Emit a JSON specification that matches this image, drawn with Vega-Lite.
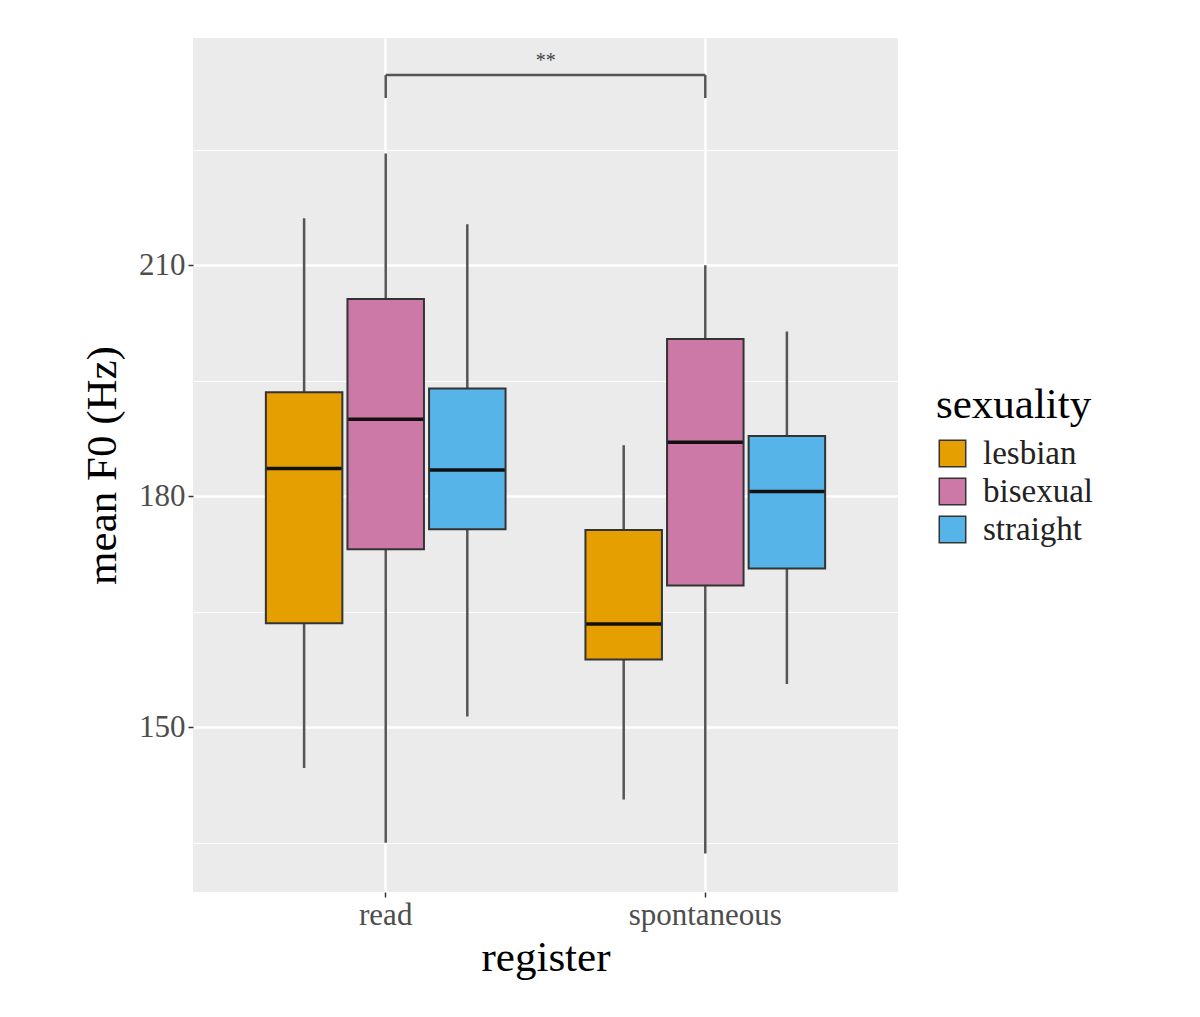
{
  "$schema": "https://vega.github.io/schema/vega-lite/v6.json",
  "width": 705,
  "height": 854,
  "autosize": {"type": "none"},
  "padding": {"left": 193, "top": 38, "right": 302, "bottom": 125},
  "background": "white",
  "config": {
    "font": "Liberation Serif",
    "view": {"fill": "#EBEBEB", "stroke": null}
  },
  "datasets": {
    "boxes": [
      {"register": "read", "sexuality": "lesbian", "lower": 144.7, "q1": 163.5, "median": 183.6, "q3": 193.5, "upper": 216.1},
      {"register": "read", "sexuality": "bisexual", "lower": 135.0, "q1": 173.1, "median": 190.0, "q3": 205.6, "upper": 224.5},
      {"register": "read", "sexuality": "straight", "lower": 151.4, "q1": 175.7, "median": 183.4, "q3": 194.0, "upper": 215.3},
      {"register": "spontaneous", "sexuality": "lesbian", "lower": 140.6, "q1": 158.8, "median": 163.4, "q3": 175.6, "upper": 186.6},
      {"register": "spontaneous", "sexuality": "bisexual", "lower": 133.6, "q1": 168.4, "median": 187.0, "q3": 200.4, "upper": 210.0},
      {"register": "spontaneous", "sexuality": "straight", "lower": 155.6, "q1": 170.6, "median": 180.6, "q3": 187.8, "upper": 201.4}
    ],
    "bracket": [
      {"from": "read", "to": "spontaneous", "top": 234.7, "foot": 231.7, "label": "**"}
    ]
  },
  "encoding": {
    "x": {
      "field": "register", "type": "nominal",
      "scale": {"domain": ["read", "spontaneous"], "paddingInner": 0.25, "paddingOuter": 0.228},
      "axis": {
        "title": "register", "titleFontSize": 43, "titleFontWeight": "normal", "titleColor": "#000",
        "titlePadding": 6,
        "labelFontSize": 31, "labelColor": "#4D4D4D", "labelAngle": 0, "labelPadding": 3,
        "domain": false, "tickColor": "#333", "tickSize": 5, "tickWidth": 1.5,
        "grid": true, "gridColor": "white", "gridWidth": 2.5, "bandPosition": 0.5
      }
    },
    "y": {
      "type": "quantitative",
      "scale": {"domain": [128.6, 239.5], "nice": false, "zero": false},
      "axis": {
        "title": "mean F0 (Hz)", "titleFontSize": 43, "titleFontWeight": "normal", "titleColor": "#000",
        "titlePadding": 14,
        "values": [135, 150, 165, 180, 195, 210, 225],
        "labelExpr": "datum.value % 30 == 0 ? datum.label : ''",
        "labelFontSize": 31, "labelColor": "#4D4D4D", "labelPadding": 3,
        "domain": false, "tickColor": "#333", "tickSize": 5, "tickWidth": 1.5,
        "tickOpacity": {"condition": {"test": "datum.value % 30 == 0", "value": 1}, "value": 0},
        "grid": true, "gridColor": "white",
        "gridWidth": {"condition": {"test": "datum.value % 30 == 0", "value": 2.5}, "value": 1.2}
      }
    }
  },
  "layer": [
    {
      "data": {"name": "boxes"},
      "mark": {"type": "rule", "color": "#555555", "strokeWidth": 2.5},
      "encoding": {
        "xOffset": {"field": "sexuality", "type": "nominal", "sort": ["lesbian", "bisexual", "straight"], "scale": {"paddingInner": 0.0625, "paddingOuter": 0}},
        "y": {"field": "lower", "type": "quantitative"},
        "y2": {"field": "upper"}
      }
    },
    {
      "data": {"name": "boxes"},
      "mark": {"type": "bar", "stroke": "#333333", "strokeWidth": 2},
      "encoding": {
        "xOffset": {"field": "sexuality", "type": "nominal", "sort": ["lesbian", "bisexual", "straight"], "scale": {"paddingInner": 0.0625, "paddingOuter": 0}},
        "y": {"field": "q1", "type": "quantitative"},
        "y2": {"field": "q3"},
        "fill": {
          "field": "sexuality", "type": "nominal",
          "scale": {"domain": ["lesbian", "bisexual", "straight"], "range": ["#E69F00", "#CC79A7", "#56B4E9"]},
          "legend": {
            "title": "sexuality", "orient": "none", "legendX": 743, "legendY": 346,
            "titleFontSize": 43, "titleFontWeight": "normal", "titleColor": "#000", "titlePadding": 10,
            "labelFontSize": 33, "labelColor": "#222", "labelOffset": 14,
            "symbolType": "square", "symbolSize": 700, "symbolStrokeColor": "#333", "symbolStrokeWidth": 1.5,
            "rowPadding": 4, "symbolOpacity": 1
          }
        }
      }
    },
    {
      "data": {"name": "boxes"},
      "mark": {"type": "tick", "color": "#111111", "thickness": 3.5, "size": 75, "opacity": 1},
      "encoding": {
        "xOffset": {"field": "sexuality", "type": "nominal", "sort": ["lesbian", "bisexual", "straight"], "scale": {"paddingInner": 0.0625, "paddingOuter": 0}},
        "y": {"field": "median", "type": "quantitative"}
      }
    },
    {
      "data": {"name": "bracket"},
      "mark": {"type": "rule", "color": "#555555", "strokeWidth": 2.5},
      "encoding": {
        "x": {"field": "from", "type": "nominal"},
        "x2": {"field": "to"},
        "y": {"field": "top", "type": "quantitative"}
      }
    },
    {
      "data": {"name": "bracket"},
      "mark": {"type": "rule", "color": "#555555", "strokeWidth": 2.5},
      "encoding": {
        "x": {"field": "from", "type": "nominal"},
        "y": {"field": "top", "type": "quantitative"},
        "y2": {"field": "foot"}
      }
    },
    {
      "data": {"name": "bracket"},
      "mark": {"type": "rule", "color": "#555555", "strokeWidth": 2.5},
      "encoding": {
        "x": {"field": "to", "type": "nominal"},
        "y": {"field": "top", "type": "quantitative"},
        "y2": {"field": "foot"}
      }
    },
    {
      "data": {"name": "bracket"},
      "mark": {"type": "text", "fontSize": 20, "color": "#444", "dx": 160, "dy": -14},
      "encoding": {
        "x": {"field": "from", "type": "nominal"},
        "y": {"field": "top", "type": "quantitative"},
        "text": {"field": "label"}
      }
    }
  ]
}
